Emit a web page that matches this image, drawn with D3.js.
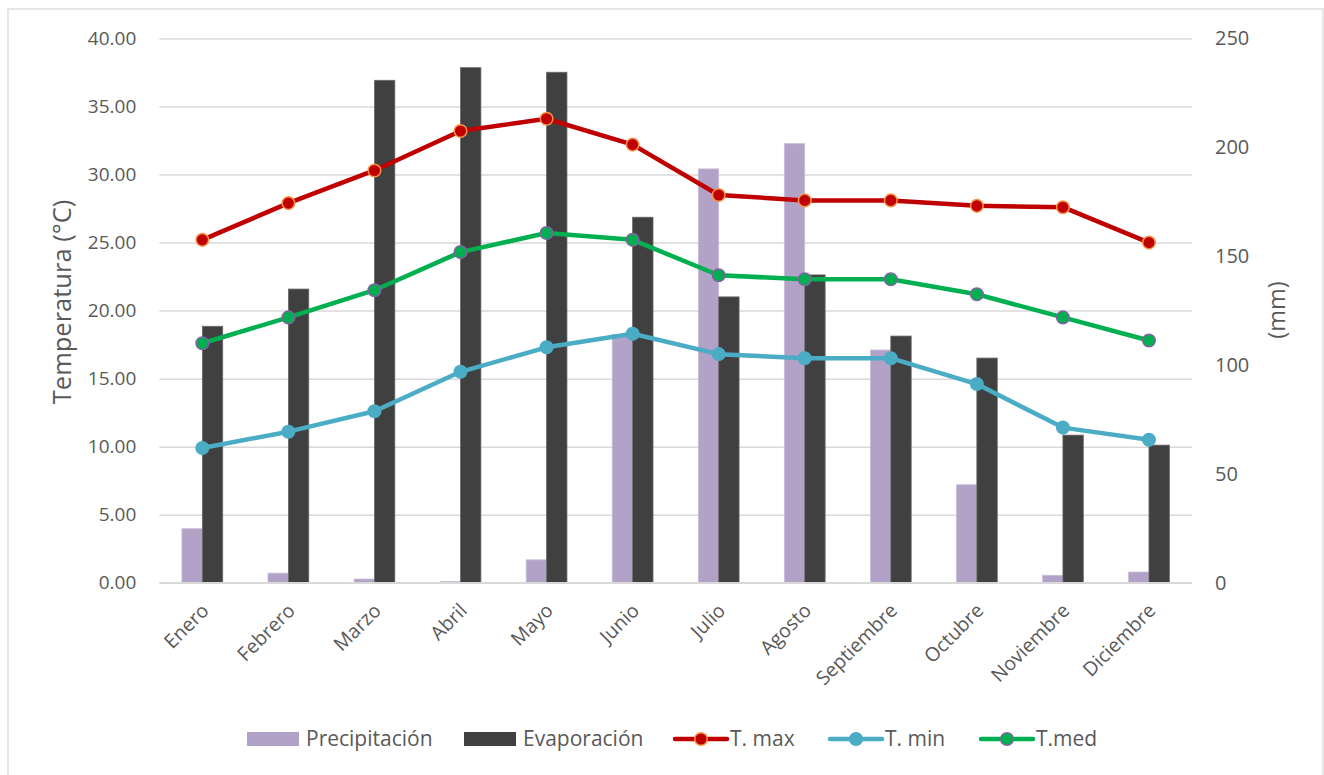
<!DOCTYPE html>
<html>
<head>
<meta charset="utf-8">
<script src="https://cdn.jsdelivr.net/npm/d3@7"></script>
<style>
  html, body { margin: 0; padding: 0; background: #fff; }
  svg { display: block; }
  text { font-family: "Open Sans", "Noto Sans", sans-serif; fill: #595959; }
</style>
</head>
<body>
<svg id="chart" width="1324" height="775"></svg>
<script>
const months = ["Enero","Febrero","Marzo","Abril","Mayo","Junio","Julio","Agosto","Septiembre","Octubre","Noviembre","Diciembre"];
const precipitacion = [24.8, 4.4, 1.7, 0.6, 10.5, 114, 190.1, 201.7, 106.9, 45.0, 3.4, 4.9];
const evaporacion = [117.8, 134.9, 230.8, 236.6, 234.5, 167.9, 131.3, 141.4, 113.3, 103.2, 67.8, 63.2];
const tMax = [25.2, 27.9, 30.3, 33.2, 34.1, 32.2, 28.5, 28.1, 28.1, 27.7, 27.6, 25.0];
const tMin = [9.9, 11.1, 12.6, 15.5, 17.3, 18.3, 16.8, 16.5, 16.5, 14.6, 11.4, 10.5];
const tMed = [17.6, 19.5, 21.5, 24.3, 25.7, 25.2, 22.6, 22.3, 22.3, 21.2, 19.5, 17.8];
const leftTicks = [0, 5, 10, 15, 20, 25, 30, 35, 40];
const rightTicks = [0, 50, 100, 150, 200, 250];

const svg = d3.select("#chart");
const plot = { left: 159.3, right: 1192, top: 38.5, bottom: 582.7 };

// outer border
svg.append("rect").attr("x", 8).attr("y", 9).attr("width", 1315).attr("height", 790)
  .attr("fill", "#fff").attr("stroke", "#d9d9d9").attr("stroke-width", 1.3);

const x = d3.scaleBand().domain(months).range([plot.left, plot.right]).padding(0);
const yL = d3.scaleLinear().domain([0, 40]).range([plot.bottom, plot.top]);
const yR = d3.scaleLinear().domain([0, 250]).range([plot.bottom, plot.top]);
const barW = 20.4;

// gridlines + left axis
const gAxisL = svg.append("g").attr("transform", `translate(${plot.left},0)`)
  .call(d3.axisLeft(yL).tickValues(leftTicks).tickFormat(d3.format(".2f"))
    .tickSize(-(plot.right - plot.left)).tickPadding(23));
gAxisL.select(".domain").remove();
gAxisL.selectAll(".tick line").attr("stroke", "#d9d9d9").attr("stroke-width", 1.5);
gAxisL.selectAll(".tick text").style("font-size", "19px").attr("fill", "#595959");

const gAxisR = svg.append("g").attr("transform", `translate(${plot.right},0)`)
  .call(d3.axisRight(yR).tickValues(rightTicks).tickFormat(d3.format("d")).tickSize(0).tickPadding(23));
gAxisR.select(".domain").remove();
gAxisR.selectAll(".tick text").style("font-size", "20px").attr("fill", "#595959");

// bars
const bars = svg.append("g");
bars.selectAll(".p").data(months).join("rect")
  .attr("x", d => x(d) + x.bandwidth() / 2 - barW)
  .attr("y", (d, i) => yR(precipitacion[i]))
  .attr("width", barW)
  .attr("height", (d, i) => yR(0) - yR(precipitacion[i]))
  .attr("fill", "#b3a2c7").attr("stroke", "#c9bdd9").attr("stroke-width", 0.8);
bars.selectAll(".e").data(months).join("rect")
  .attr("x", d => x(d) + x.bandwidth() / 2)
  .attr("y", (d, i) => yR(evaporacion[i]))
  .attr("width", barW)
  .attr("height", (d, i) => yR(0) - yR(evaporacion[i]))
  .attr("fill", "#404040").attr("stroke", "#6a6a6a").attr("stroke-width", 0.8);

// baseline
svg.append("line").attr("x1", plot.left).attr("x2", plot.right)
  .attr("y1", yL(0)).attr("y2", yL(0)).attr("stroke", "#d9d9d9").attr("stroke-width", 1.5);

// lines
const series = [
  { name: "T. max", data: tMax, color: "#c00000", mfill: "#c00000", mstroke: "#f79646" },
  { name: "T. min", data: tMin, color: "#4bacc6", mfill: "#4bacc6", mstroke: "#4bacc6" },
  { name: "T.med",  data: tMed, color: "#00b050", mfill: "#00b050", mstroke: "#8064a2" }
];
const line = d3.line().x(d => d[0]).y(d => d[1]);
series.forEach(s => {
  const pts = s.data.map((v, i) => [x(months[i]) + x.bandwidth() / 2, yL(v)]);
  svg.append("path").attr("d", line(pts)).attr("fill", "none")
    .attr("stroke", s.color).attr("stroke-width", 4.5)
    .attr("stroke-linejoin", "round").attr("stroke-linecap", "round");
  svg.append("g").selectAll("circle").data(pts).join("circle")
    .attr("cx", d => d[0]).attr("cy", d => d[1]).attr("r", 6.3)
    .attr("fill", s.mfill).attr("stroke", s.mstroke).attr("stroke-width", 1.5);
});

// x labels
svg.append("g").selectAll("text").data(months).join("text")
  .attr("transform", d => `translate(${x(d) + x.bandwidth() / 2 + 3},${607}) rotate(-45)`)
  .attr("text-anchor", "end").attr("dy", "0.35em")
  .style("font-size", "19.5px").text(d => d);

// axis titles
svg.append("text").attr("transform", `translate(62,${302}) rotate(-90)`)
  .attr("text-anchor", "middle").attr("dy", "0.35em")
  .style("font-size", "25.5px").text("Temperatura (°C)");
svg.append("text").attr("transform", `translate(1277,${310}) rotate(-90)`)
  .attr("text-anchor", "middle").attr("dy", "0.35em")
  .style("font-size", "23.5px").text("(mm)");

// legend
const ly = 739;
const leg = svg.append("g");
const legendItems = [
  { type: "bar", name: "Precipitación", color: "#b3a2c7", x0: 247 },
  { type: "bar", name: "Evaporación", color: "#404040", x0: 464 },
  { type: "line", name: "T. max", s: series[0], x0: 673 },
  { type: "line", name: "T. min", s: series[1], x0: 828 },
  { type: "line", name: "T.med", s: series[2], x0: 979 }
];
legendItems.forEach(it => {
  if (it.type === "bar") {
    leg.append("rect").attr("x", it.x0).attr("y", ly - 7).attr("width", 52).attr("height", 14).attr("fill", it.color);
    leg.append("text").attr("x", it.x0 + 59).attr("y", ly).attr("dy", "0.35em")
      .style("font-size", "21px").text(it.name);
  } else {
    leg.append("line").attr("x1", it.x0 + 2).attr("x2", it.x0 + 54).attr("y1", ly).attr("y2", ly)
      .attr("stroke", it.s.color).attr("stroke-width", 4.5).attr("stroke-linecap", "round");
    leg.append("circle").attr("cx", it.x0 + 28).attr("cy", ly).attr("r", 6.3)
      .attr("fill", it.s.mfill).attr("stroke", it.s.mstroke).attr("stroke-width", 1.5);
    leg.append("text").attr("x", it.x0 + 57).attr("y", ly).attr("dy", "0.35em")
      .style("font-size", "21px").text(it.name);
  }
});
</script>
</body>
</html>
